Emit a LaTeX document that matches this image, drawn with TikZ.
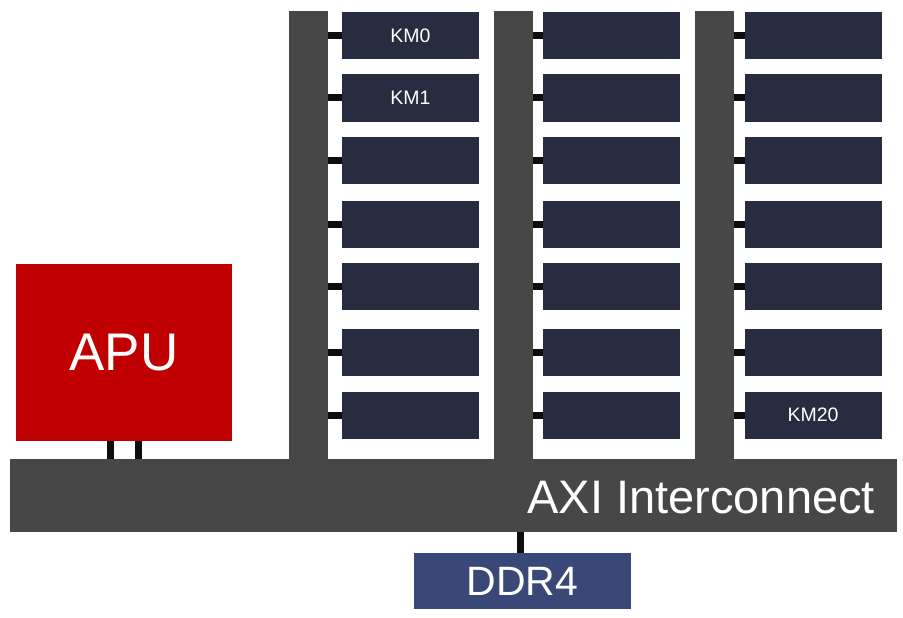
\documentclass[tikz,border=0pt]{standalone}
\usepackage{fontspec}
\setmainfont{Liberation Sans}
\definecolor{busgrey}{HTML}{474747}
\definecolor{kmnavy}{HTML}{272C40}
\definecolor{apured}{HTML}{C00000}
\definecolor{ddrblue}{HTML}{3A4878}
\definecolor{wire}{HTML}{0D0D0D}

\begin{document}
\begin{tikzpicture}[x=1pt, y=-1pt,
    blk/.style={inner sep=0pt, outer sep=0pt, text=white},
    kmbox/.style={blk, fill=kmnavy, minimum width=137pt, minimum height=47pt},
    kmtext/.style={blk, font=\fontsize{19.5}{19.5}\selectfont},
    busbar/.style={blk, fill=busgrey, minimum width=39pt, minimum height=448pt},
    stub/.style={draw=wire, line width=7pt}]
    \useasboundingbox (0,0) rectangle (903,618);

    % main interconnect
    \node[blk, fill=busgrey, minimum width=887pt, minimum height=73pt] (axi) at (453.5,495.5) {};
    \node[blk, anchor=base east, font=\fontsize{47}{47}\selectfont] (axilabel) at (875,513) {AXI Interconnect};

    % three vertical buses with their kernel blocks
    \foreach \cl/\bx in {1/308.5, 2/513.5, 3/714.5} {
        \node[busbar] (bus\cl) at (\bx,235) {};
    }
    \foreach \cl/\kx in {1/410.5, 2/611.5, 3/813} {
        \foreach \rw/\ky in {0/36, 1/98, 2/160, 3/224, 4/286, 5/352, 6/415} {
            \node[kmbox] (km\cl\rw) at (\kx,\ky) {};
            \draw[stub] (bus\cl.east |- km\cl\rw.west) -- (km\cl\rw.west);
        }
    }
    \node[kmtext] at (km10) {KM0};
    \node[kmtext] at (km11) {KM1};
    \node[kmtext] at (km36) {KM20};

    % processor and memory
    \node[blk, fill=apured, minimum width=216pt, minimum height=177pt,
          font=\fontsize{53}{53}\selectfont] (apu) at (124,352.5) {APU};
    \node[blk, fill=ddrblue, minimum width=217pt, minimum height=56pt,
          font=\fontsize{41}{41}\selectfont] (ddr) at (522.5,581) {DDR4};

    \draw[stub] ([xshift=-14pt]apu.south) -- ([xshift=-14pt]apu.south |- axi.north);
    \draw[stub] ([xshift=14pt]apu.south) -- ([xshift=14pt]apu.south |- axi.north);
    \draw[stub] ([xshift=-2pt]ddr.north) -- ([xshift=-2pt]ddr.north |- axi.south);
\end{tikzpicture}
\end{document}
